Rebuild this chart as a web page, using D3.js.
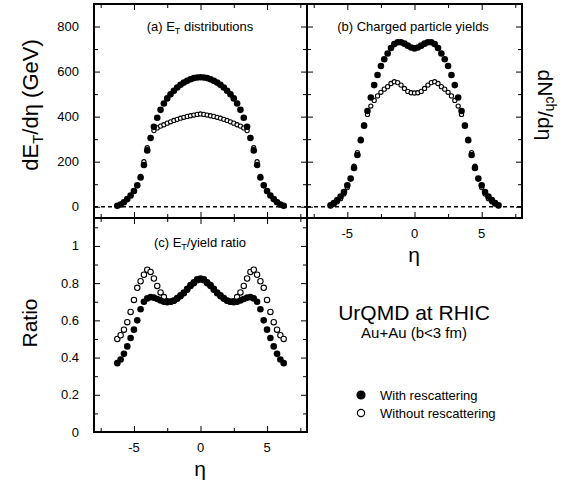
<!DOCTYPE html>
<html>
<head>
<meta charset="utf-8" />
<title>UrQMD at RHIC</title>
<script src="https://d3js.org/d3.v7.min.js"></script>
<style>
  body { margin: 0; background: white; }
  svg text { font-family: "Liberation Sans", Arial, Helvetica, sans-serif; fill: black; }
</style>
</head>
<body>
<svg id="viz" width="574" height="487"></svg>
<script>

// pseudorapidity bins
var eta = [-6.25,-6,-5.75,-5.5,-5.25,-5,-4.75,-4.5,-4.25,-4,-3.75,-3.5,-3.25,-3,-2.75,-2.5,-2.25,-2,-1.75,-1.5,-1.25,-1,-0.75,-0.5,-0.25,
           0,0.25,0.5,0.75,1,1.25,1.5,1.75,2,2.25,2.5,2.75,3,3.25,3.5,3.75,4,4.25,4.5,4.75,5,5.25,5.5,5.75,6,6.25];

// (a) dET/deta (GeV)
var etWith = [4,10,20,34,50,70,95,130,185,250,305,355,395,430,458,481,499,515,529,541,551,559,566,571,574,
              575,574,571,566,559,551,541,529,515,499,481,458,430,395,355,305,250,185,130,95,70,50,34,20,10,4];
var etWithout = [4,10,20,33,50,70,95,135,200,262,308,338,350,358,364,371,377,383,388,393,397,401,404,407,410,
                 412,410,407,404,401,397,393,388,383,377,371,364,358,350,338,308,262,200,135,95,70,50,33,20,10,4];

// (b) dNch/deta
var nchWith = [6,16,30,45,65,95,125,172,230,295,360,425,485,540,585,625,655,680,705,722,730,730,724,715,707,
               703,707,715,724,730,730,722,705,680,655,625,585,540,485,425,360,295,230,172,125,95,65,45,30,16,6];
var nchWithout = [5,12,22,36,57,85,125,180,240,300,362,410,447,472,492,508,522,533,547,555,551,540,525,512,506,
                  505,506,512,525,540,551,555,547,533,522,508,492,472,447,410,362,300,240,180,125,85,57,36,22,12,5];

// (c) ET / yield ratio
var ratioWith = [0.37,0.39,0.42,0.46,0.505,0.55,0.60,0.66,0.70,0.718,0.725,0.722,0.715,0.707,0.70,0.697,0.70,0.707,0.72,0.735,0.75,0.77,0.79,0.805,0.82,
                 0.825,0.82,0.805,0.79,0.77,0.75,0.735,0.72,0.707,0.70,0.697,0.70,0.707,0.715,0.722,0.725,0.718,0.70,0.66,0.60,0.55,0.505,0.46,0.42,0.39,0.37];
var ratioWithout = [0.50,0.52,0.55,0.59,0.645,0.71,0.775,0.81,0.845,0.872,0.86,0.825,0.785,0.75,0.725,0.703,0.70,0.705,0.716,0.73,0.745,0.765,0.785,0.80,0.815,
                    0.82,0.815,0.80,0.785,0.765,0.745,0.73,0.716,0.705,0.70,0.703,0.725,0.75,0.785,0.825,0.86,0.872,0.845,0.81,0.775,0.71,0.645,0.59,0.55,0.52,0.50];

// ticks
var xMajor = [-5, 0, 5], xMinor = [-7.5, -2.5, 2.5, 7.5];
var yMajorTop = [0, 200, 400, 600, 800], yMinorTop = [100, 300, 500, 700];
var yMajorRatio = [0, 0.2, 0.4, 0.6, 0.8, 1], yMinorRatio = [0.1, 0.3, 0.5, 0.7, 0.9, 1.1];

var svg = d3.select("#viz");

function fmt(d) { return d < 0 ? "-" + Math.abs(d) : String(d); }

//Draw one framed panel with inward ticks on all four sides
function panel(x0, x1, y0, y1, yDomain, yMaj, yMin, opts) {
  var x = d3.scaleLinear().domain([-8, 8]).range([x0, x1]);
  var y = d3.scaleLinear().domain(yDomain).range([y1, y0]);
  var g = svg.append("g");

  function ticks(axisFn, scale, vals, size, tx, ty) {
    var a = g.append("g").attr("transform", "translate(" + tx + "," + ty + ")")
      .call(axisFn(scale).tickValues(vals).tickSize(size).tickFormat(""));
    a.select(".domain").remove();
    a.selectAll("line").attr("stroke", "black").attr("stroke-width", 1);
    return a;
  }
  ticks(d3.axisBottom, x, xMajor, -6, 0, y1);
  ticks(d3.axisBottom, x, xMinor, -4, 0, y1);
  ticks(d3.axisTop, x, xMajor, -6, 0, y0);
  ticks(d3.axisTop, x, xMinor, -4, 0, y0);
  ticks(d3.axisLeft, y, yMaj, -6, x0, 0);
  ticks(d3.axisLeft, y, yMin, -4, x0, 0);
  ticks(d3.axisRight, y, yMaj, -6, x1, 0);
  ticks(d3.axisRight, y, yMin, -4, x1, 0);

  if (opts.yLabels) {
    g.selectAll(".ylab").data(yMaj).enter().append("text")
      .attr("x", x0 - 15).attr("y", function(d) { return y(d) + 4.5; })
      .attr("text-anchor", "end").attr("font-size", 13)
      .text(fmt);
  }
  if (opts.xLabels) {
    g.selectAll(".xlab").data(xMajor).enter().append("text")
      .attr("x", function(d) { return x(d); }).attr("y", y1 + 20)
      .attr("text-anchor", "middle").attr("font-size", 13)
      .text(fmt);
  }
  if (opts.zeroLine) {
    g.append("line")
      .attr("x1", x0).attr("x2", x1).attr("y1", y(0)).attr("y2", y(0))
      .attr("stroke", "black").attr("stroke-width", 1.4).attr("stroke-dasharray", "4,3");
  }

  //open markers first, filled on top
  g.selectAll(".open").data(opts.open).enter().append("circle")
    .attr("cx", function(d, i) { return x(eta[i]); })
    .attr("cy", function(d) { return y(d); })
    .attr("r", opts.rOpen).attr("fill", "white").attr("stroke", "black").attr("stroke-width", 1.1);
  g.selectAll(".filled").data(opts.filled).enter().append("circle")
    .attr("cx", function(d, i) { return x(eta[i]); })
    .attr("cy", function(d) { return y(d); })
    .attr("r", 3.3).attr("fill", "black");

  g.append("rect")
    .attr("x", x0).attr("y", y0).attr("width", x1 - x0).attr("height", y1 - y0)
    .attr("fill", "none").attr("stroke", "black").attr("stroke-width", 2);
  return g;
}

panel(94, 307, 4, 218, [-50, 900], yMajorTop, yMinorTop,
  { yLabels: true, xLabels: false, zeroLine: true, open: etWithout, filled: etWith, rOpen: 2.1 });
panel(307, 522, 4, 218, [-50, 900], yMajorTop, yMinorTop,
  { yLabels: false, xLabels: true, zeroLine: true, open: nchWithout, filled: nchWith, rOpen: 2.1 });
panel(94, 307, 218, 432, [0, 1.15], yMajorRatio, yMinorRatio,
  { yLabels: true, xLabels: true, zeroLine: false, open: ratioWithout, filled: ratioWith, rOpen: 2.7 });

//Panel titles
var t1 = svg.append("text").attr("x", 200).attr("y", 31).attr("text-anchor", "middle").attr("font-size", 13);
t1.append("tspan").text("(a) E");
t1.append("tspan").attr("font-size", 9).attr("dy", 3).text("T");
t1.append("tspan").attr("dy", -3).text(" distributions");

svg.append("text").attr("x", 413).attr("y", 31).attr("text-anchor", "middle").attr("font-size", 13)
  .text("(b) Charged particle yields");

var t3 = svg.append("text").attr("x", 200).attr("y", 247).attr("text-anchor", "middle").attr("font-size", 13);
t3.append("tspan").text("(c) E");
t3.append("tspan").attr("font-size", 9).attr("dy", 3).text("T");
t3.append("tspan").attr("dy", -3).text("/yield ratio");

//Axis titles
var yl = svg.append("text").attr("transform", "translate(38,105) rotate(-90)")
  .attr("text-anchor", "middle").attr("font-size", 22);
yl.append("tspan").text("dE");
yl.append("tspan").attr("font-size", 15).attr("dy", 5).text("T");
yl.append("tspan").attr("dy", -5).text("/d\u03b7 (GeV)");

var yr = svg.append("text").attr("transform", "translate(538,105) rotate(90)")
  .attr("text-anchor", "middle").attr("font-size", 21);
yr.append("tspan").text("dN");
yr.append("tspan").attr("font-size", 14).attr("dy", -8).text("ch");
yr.append("tspan").attr("dy", 8).text("/d\u03b7");

svg.append("text").attr("transform", "translate(37,323) rotate(-90)")
  .attr("text-anchor", "middle").attr("font-size", 21).text("Ratio");

svg.append("text").attr("x", 414).attr("y", 262).attr("text-anchor", "middle").attr("font-size", 21).text("\u03b7");
svg.append("text").attr("x", 200).attr("y", 476).attr("text-anchor", "middle").attr("font-size", 21).text("\u03b7");

//Annotation
svg.append("text").attr("x", 414).attr("y", 320).attr("text-anchor", "middle").attr("font-size", 21).text("UrQMD at RHIC");
svg.append("text").attr("x", 414).attr("y", 338).attr("text-anchor", "middle").attr("font-size", 15).text("Au+Au (b<3 fm)");

//Legend
var legend = [{ label: "With rescattering", filled: true }, { label: "Without rescattering", filled: false }];
var lg = svg.selectAll(".leg").data(legend).enter().append("g")
  .attr("transform", function(d, i) { return "translate(361," + (395 + i * 18) + ")"; });
lg.append("circle").attr("r", function(d) { return d.filled ? 4 : 3.6; })
  .attr("fill", function(d) { return d.filled ? "black" : "white"; })
  .attr("stroke", "black").attr("stroke-width", 1.2);
lg.append("text").attr("x", 19).attr("y", 4.5).attr("font-size", 13).text(function(d) { return d.label; });

</script>
</body>
</html>
